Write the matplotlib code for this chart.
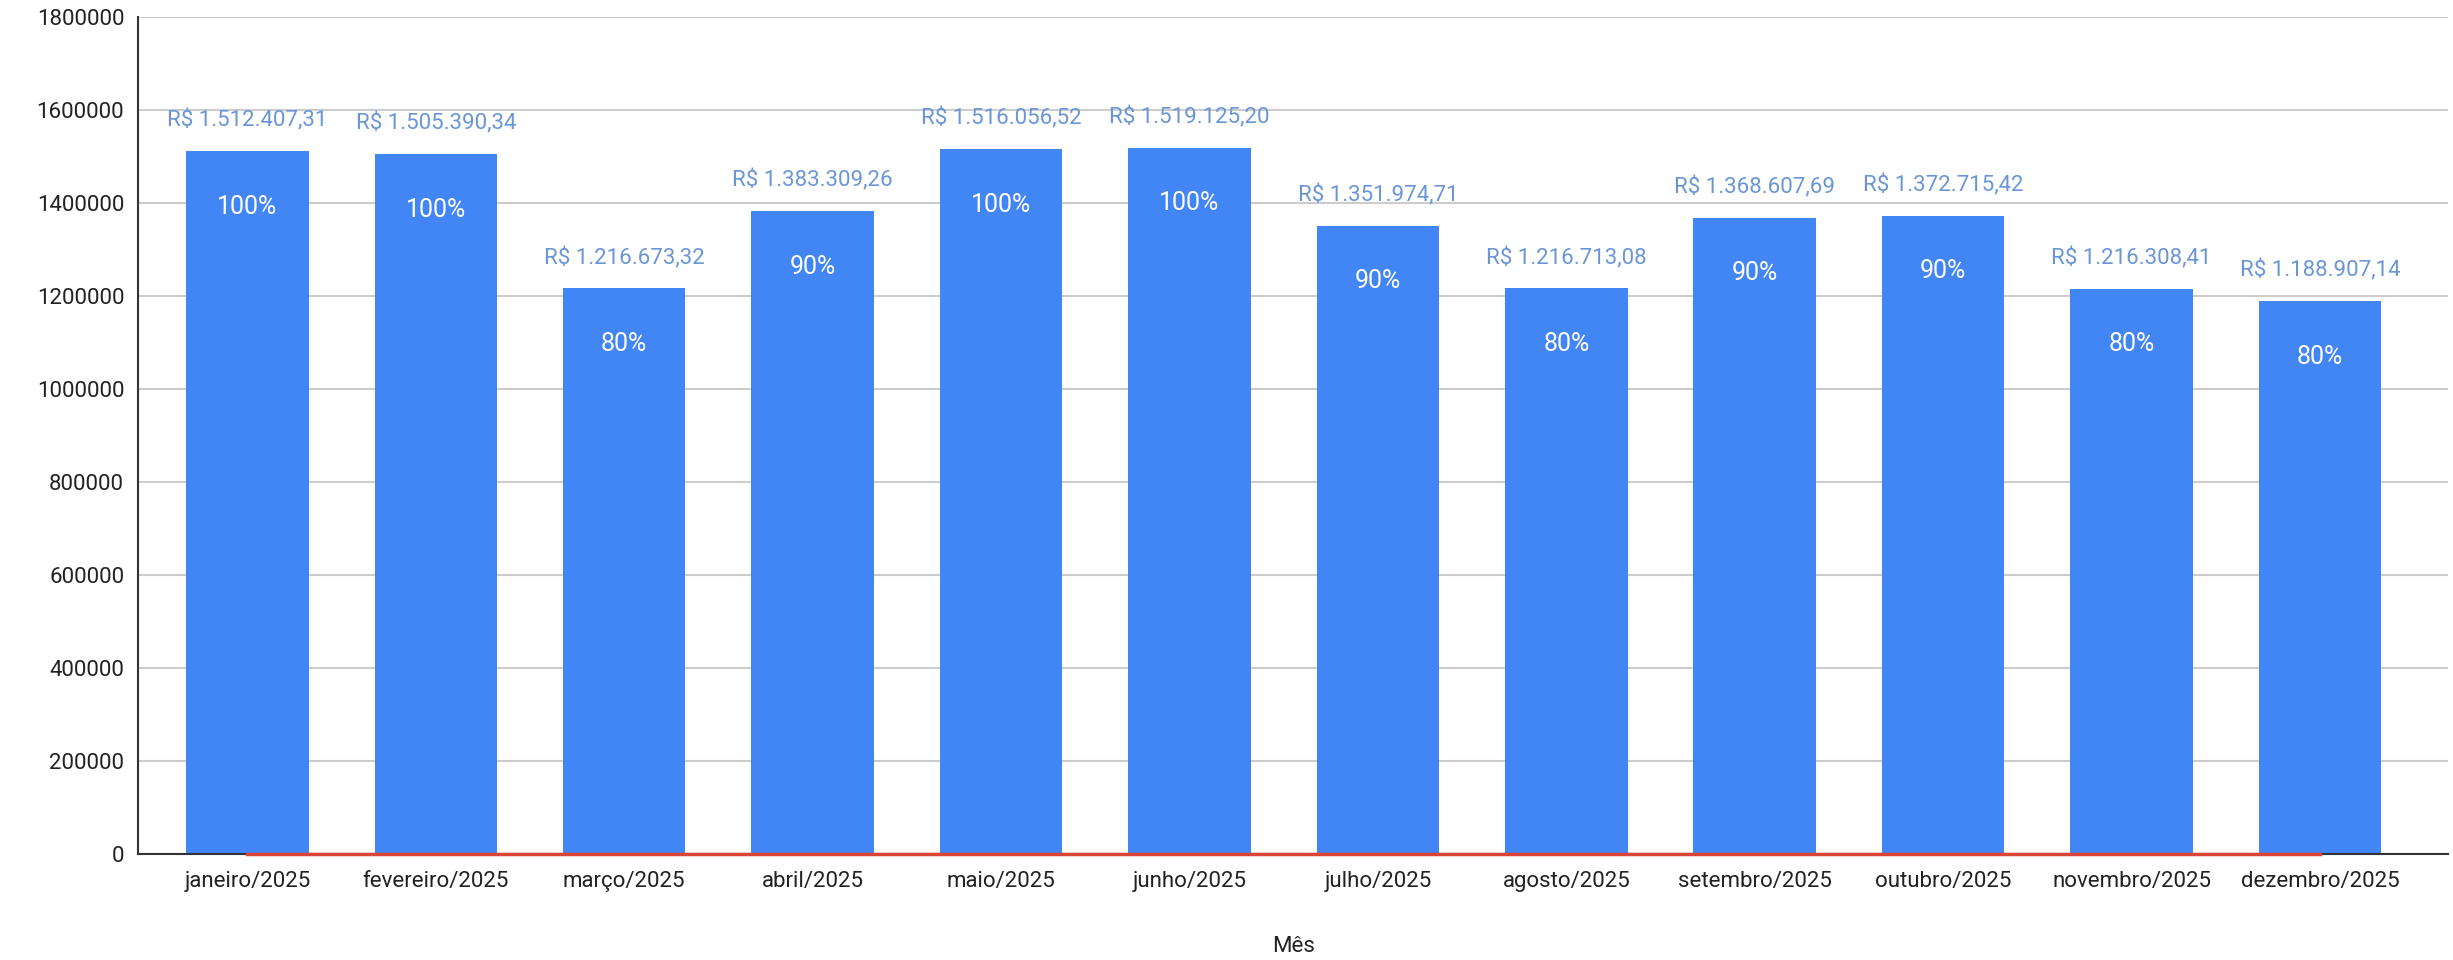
import matplotlib
matplotlib.use("Agg")
import matplotlib.pyplot as plt
from matplotlib.ticker import FuncFormatter

months = ["janeiro/2025", "fevereiro/2025", "março/2025", "abril/2025", "maio/2025",
          "junho/2025", "julho/2025", "agosto/2025", "setembro/2025", "outubro/2025",
          "novembro/2025", "dezembro/2025"]
valores = [1512407.31, 1505390.34, 1216673.32, 1383309.26, 1516056.52, 1519125.20,
           1351974.71, 1216713.08, 1368607.69, 1372715.42, 1216308.41, 1188907.14]
valor_labels = ["R$ 1.512.407,31", "R$ 1.505.390,34", "R$ 1.216.673,32", "R$ 1.383.309,26",
                "R$ 1.516.056,52", "R$ 1.519.125,20", "R$ 1.351.974,71", "R$ 1.216.713,08",
                "R$ 1.368.607,69", "R$ 1.372.715,42", "R$ 1.216.308,41", "R$ 1.188.907,14"]
percentuais = [1.0, 1.0, 0.8, 0.9, 1.0, 1.0, 0.9, 0.8, 0.9, 0.9, 0.8, 0.8]
yticks = [0, 200000, 400000, 600000, 800000, 1000000, 1200000, 1400000, 1600000, 1800000]

plt.rcParams['font.family'] = ['Roboto', 'DejaVu Sans']

fig = plt.figure(figsize=(24.53, 9.6), dpi=100)
ax = fig.add_axes([0.0563, 0.1104, 0.9417, 0.8716])

x = list(range(len(months)))
bars = ax.bar(x, valores, width=0.65, color="#4285F4", zorder=2)
ax.plot(x, percentuais, color="#DB4437", linewidth=2.5, zorder=6, clip_on=False)

for xi, v, lab, p in zip(x, valores, valor_labels, percentuais):
    ax.annotate(lab, (xi, v), xytext=(0, 14), textcoords="offset points",
                ha="center", va="bottom", fontsize=16, color="#6a96d8", zorder=4)
    ax.annotate(f"{int(round(p*100))}%", (xi, v), xytext=(0, -40), textcoords="offset points",
                ha="center", va="center", fontsize=18, color="white", zorder=4)

ax.set_xlim(-0.58, 11.68)
ax.set_ylim(0, 1800000)
ax.set_yticks(yticks)
ax.yaxis.set_major_formatter(FuncFormatter(lambda v, _: f"{int(v)}"))
ax.set_xticks(x)
ax.set_xticklabels(months)
ax.tick_params(axis="both", length=0, labelsize=16, labelcolor="#222222")
ax.tick_params(axis="x", pad=12)
ax.tick_params(axis="y", pad=10)
ax.grid(axis="y", color="#cccccc", linewidth=1.5, zorder=0)
ax.set_axisbelow(True)
for s in ["top", "right"]:
    ax.spines[s].set_visible(False)
ax.spines["left"].set_color("#333333")
ax.spines["bottom"].set_color("#333333")
ax.spines["left"].set_linewidth(1.5)
ax.spines["bottom"].set_linewidth(1.5)
ax.spines["bottom"].set_zorder(5)

fig.text(ax.get_position().x0 + ax.get_position().width / 2, 1 - 946/960, "Mês",
         ha="center", va="center", fontsize=16, color="#222222")

fig.savefig("out.png", dpi=100, facecolor="white")
